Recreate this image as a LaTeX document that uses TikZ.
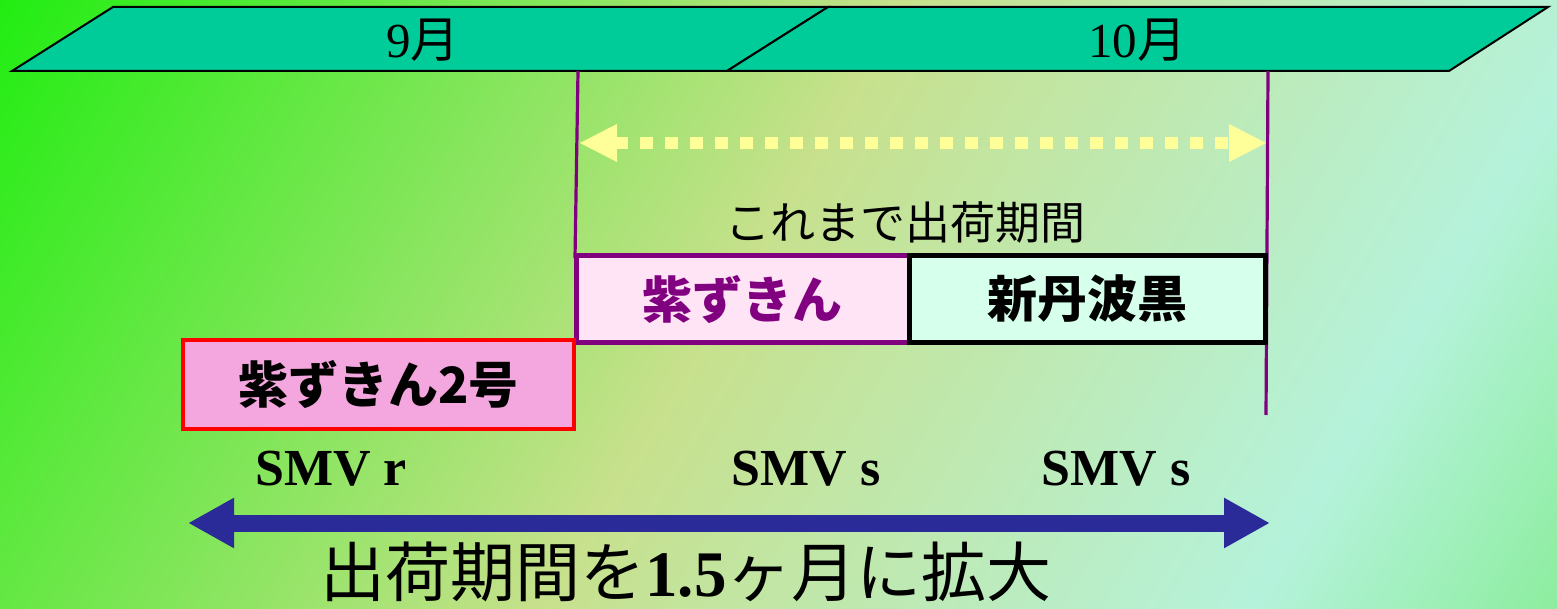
\documentclass[tikz,border=0pt]{standalone}
\usepackage{fontspec}
\setmainfont{Liberation Serif}
\newfontfamily\jp{Noto Sans CJK JP}
\usetikzlibrary{arrows.meta}
\definecolor{bandcol}{RGB}{0,204,153}
\definecolor{purp}{RGB}{128,0,128}
\definecolor{dotyel}{RGB}{255,255,153}
\definecolor{navyarrow}{RGB}{42,42,153}
\definecolor{pinkA}{RGB}{255,228,245}
\definecolor{mintB}{RGB}{214,255,236}
\definecolor{pinkC}{RGB}{244,166,222}
\pgfdeclarehorizontalshading{bgshade}{900pt}{rgb(0pt)=(0.13,0.93,0.07); rgb(388pt)=(0.78,0.88,0.55); rgb(693pt)=(0.71,0.95,0.86); rgb(825pt)=(0.55,0.93,0.62)}
\tikzset{
  band/.style={fill=bandcol, draw=black, line width=1pt, line join=miter},
  monthlbl/.style={inner sep=0pt, font=\fontsize{24.5pt}{26pt}\selectfont},
  purpline/.style={draw=purp, line width=1.6pt},
  yelarrow/.style={draw=dotyel, line width=6pt, dash pattern=on 6.5pt off 6pt,
    {Triangle[length=19pt,width=17.5pt,fill=dotyel]}-{Triangle[length=19pt,width=17.5pt,fill=dotyel]}},
  bluearrow/.style={draw=navyarrow, line width=8.5pt,
    {Triangle[length=23pt,width=23.5pt]}-{Triangle[length=23pt,width=23.5pt]}},
  boxlbl/.style={inner sep=0pt, minimum height=43pt, font=\jp\bfseries\fontsize{25pt}{27pt}\selectfont},
  smv/.style={inner sep=0pt, font=\bfseries\fontsize{26pt}{28pt}\selectfont},
}
\begin{document}
\begin{tikzpicture}[x=0.5pt,y=-0.5pt]
\useasboundingbox (0,0) rectangle (1557,609);
\begin{scope}
\clip (0,0) rectangle (1557,609);
\node[inner sep=0pt, outer sep=0pt, rotate=-31] (bg) at (778.5,304.5) {\pgfuseshading{bgshade}};
\end{scope}
% month bands
\draw[band] (12,71) -- (113,7) -- (828,7) -- (727,71) -- cycle;
\draw[band] (727,71) -- (828,7) -- (1548,7) -- (1449,71) -- cycle;
\node[monthlbl] (sep) at (423,40) {9{\jp 月}};
\node[monthlbl] (oct) at (1137,40) {10{\jp 月}};
% purple lines
\coordinate (l1t) at (578,71);
\coordinate (l1b) at (575,258);
\coordinate (l2t) at (1268,71);
\coordinate (l2b) at (1266,415);
\draw[purpline] (l1t) -- (l1b);
\draw[purpline] (l2t) -- (l2b);
% yellow dotted arrow
\coordinate (ya) at (579,143);
\coordinate (yb) at (1267,143);
\draw[yelarrow] (ya) -- (yb);
\node[inner sep=0pt, font=\jp\fontsize{22.5pt}{24pt}\selectfont] (prev) at (905,222) {これまで出荷期間};
% boxes
\node[boxlbl, draw=purp, line width=2.5pt, fill=pinkA, minimum width=166.5pt, text=purp] (murA) at (742.5,299) {紫ずきん};
\node[boxlbl, draw=black, line width=2.5pt, fill=mintB, minimum width=178pt] (shin) at (1087,299) {新丹波黒};
\node[boxlbl, draw=red, line width=2pt, fill=pinkC, minimum width=195.5pt, minimum height=44.5pt] (mur2) at (378.5,384.5) {紫ずきん2号};
% SMV labels
\node[smv] (smvr) at (331,469) {SMV r};
\node[smv] (smvs1) at (806,469) {SMV s};
\node[smv] (smvs2) at (1116,469) {SMV s};
% blue arrow
\coordinate (ba) at (188,523);
\coordinate (bb) at (1270,523);
\draw[bluearrow] (ba) -- (bb);
\node[inner sep=0pt, font=\jp\fontsize{32.5pt}{34pt}\selectfont] (main) at (686,572) {出荷期間を{\rmfamily\bfseries 1.5}ヶ月に拡大};
\end{tikzpicture}
\end{document}
